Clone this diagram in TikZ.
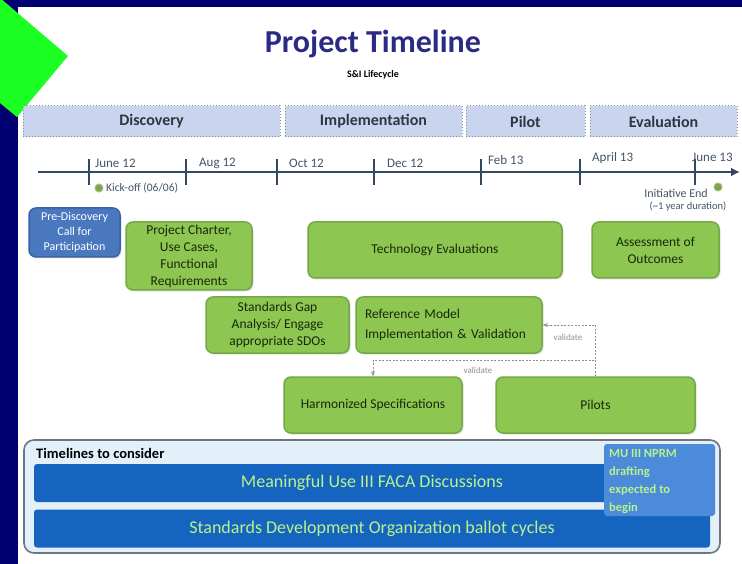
\documentclass[tikz,border=0pt]{standalone}
\usepackage{fontspec}
\setmainfont{Carlito}
\usetikzlibrary{arrows.meta,shadows}
\definecolor{navy}{HTML}{000070}
\definecolor{brightgreen}{HTML}{1CFF22}
\definecolor{titlecol}{HTML}{2B2B84}
\definecolor{phasefill}{HTML}{C9D5EE}
\definecolor{phaseborder}{HTML}{8A8F99}
\definecolor{phasetext}{HTML}{2E3640}
\definecolor{tlcol}{HTML}{34495E}
\definecolor{tltext}{HTML}{44546A}
\definecolor{gfill}{HTML}{8DC650}
\definecolor{gborder}{HTML}{74A844}
\definecolor{gtext}{HTML}{17290D}
\definecolor{bfill}{HTML}{4A78BE}
\definecolor{bborder}{HTML}{3A62A6}
\definecolor{markgreen}{HTML}{7DA446}
\definecolor{panelfill}{HTML}{E3EFF9}
\definecolor{panelborder}{HTML}{6C7680}
\definecolor{barfill}{HTML}{1565C0}
\definecolor{nprmfill}{HTML}{4B8BDA}
\definecolor{bartext}{HTML}{B8F28C}
\definecolor{valcol}{HTML}{8A9098}
\tikzset{
  phase/.style={draw=phaseborder, dotted, line width=1pt, fill=phasefill, minimum height=31pt,
    font=\bfseries\fontsize{16}{18}\selectfont, text=phasetext, inner sep=0pt},
  gbox/.style={draw=gborder, line width=1.5pt, fill=gfill, rounded corners=7pt, align=center,
    text=gtext, inner sep=2pt, font=\fontsize{13.5}{17}\selectfont,
    drop shadow={opacity=0.25, shadow xshift=1.5pt, shadow yshift=-1.5pt}},
  tlabel/.style={font=\fontsize{13}{15}\selectfont, text=tltext, inner sep=0pt},
  tick/.style={line width=1.8pt, draw=tlcol},
  val/.style={draw=valcol, line width=0.9pt, dash pattern=on 2pt off 1.5pt, -{Stealth[length=5pt,width=4pt]}},
  vallabel/.style={font=\fontsize{9}{10}\selectfont, text=valcol, inner sep=1pt},
  bar/.style={fill=barfill, rounded corners=3pt, minimum width=676pt, minimum height=38pt, inner sep=0pt,
    text=bartext, font=\fontsize{18}{20}\selectfont},
}
\begin{document}
\begin{tikzpicture}[x=1pt,y=-1pt]
\useasboundingbox (0,0) rectangle (742,564);
% background
\fill[navy] (0,0) rectangle (742,564);
\fill[white] (18,7) rectangle (742,564);
\fill[brightgreen] (0,-2) -- (68,56) -- (17,117) -- (0,103) -- cycle;

% title
\node[font=\bfseries\fontsize{32}{36}\selectfont, text=titlecol] (title) at (373,44) {Project Timeline};
\node[font=\bfseries\fontsize{10}{12}\selectfont] (subtitle) at (373,75) {S\&I Lifecycle};

% phases
\node[phase, minimum width=257pt] (discovery) at (151.5,121.5) {Discovery};
\node[phase, minimum width=177pt] (implementation) at (373.5,121.5) {Implementation};
\node[phase, minimum width=119pt] (pilot) at (525.5,121.5) {Pilot};
\node[phase, minimum width=147pt] (evaluation) at (663.5,121.5) {Evaluation};

% timeline
\coordinate (tstart) at (38,172);
\coordinate (tend) at (740,172);
\draw[line width=2.6pt, tlcol, -{Latex[length=9pt,width=9pt]}] (tstart) -- (tend);
\foreach \x in {89,186,277,374,481,580,695} {
  \draw[tick] (\x,159) -- (\x,185);
}
\node[tlabel, anchor=west] (jun12) at (95,163) {June 12};
\node[tlabel, anchor=west] (aug12) at (199,163) {Aug 12};
\node[tlabel, anchor=west] (oct12) at (289,163) {Oct 12};
\node[tlabel, anchor=west] (dec12) at (387,163) {Dec 12};
\node[tlabel, anchor=west] (feb13) at (488,160) {Feb 13};
\node[tlabel, anchor=west] (apr13) at (592,158) {April 13};
\node[tlabel, anchor=west] (jun13) at (692,157) {June 13};

% milestones
\node[circle, fill=markgreen, draw=markgreen!70!white, line width=1pt, minimum size=8pt, inner sep=0pt] (kickmark) at (99,188) {};
\node[tlabel, font=\fontsize{11.5}{13}\selectfont, anchor=west] (kick) at (106,188) {Kick-off (06/06)};
\node[circle, fill=markgreen, draw=markgreen!70!white, line width=1pt, minimum size=8pt, inner sep=0pt] (endmark) at (718,187) {};
\node[tlabel, font=\fontsize{12}{13}\selectfont, anchor=east] (endtext) at (708,193) {Initiative End};
\node[tlabel, font=\fontsize{10.5}{12}\selectfont] (duration) at (688,207) {(\textasciitilde1 year duration)};

% boxes
\node[gbox, fill=bfill, draw=bborder, text=white, minimum width=91pt, minimum height=49pt,
  font=\fontsize{12}{15}\selectfont] (prediscovery) at (74.5,232.5) {Pre-Discovery\\Call for\\Participation};
\node[gbox, minimum width=126pt, minimum height=68pt] (charter) at (189,256) {Project Charter,\\Use Cases,\\Functional\\Requirements};
\node[gbox, minimum width=254pt, minimum height=56pt] (tech) at (435,250) {Technology Evaluations};
\node[gbox, minimum width=127pt, minimum height=56pt] (assess) at (655.5,250) {Assessment of\\Outcomes};
\node[gbox, minimum width=143pt, minimum height=56pt] (gap) at (277.5,325) {Standards Gap\\Analysis/ Engage\\appropriate SDOs};
\node[gbox, minimum width=186pt, minimum height=56pt, align=left, text width=168pt,
  font=\fontsize{13.5}{20}\selectfont] (ref) at (449,325) {Reference Model\\Implementation \& Validation};
\node[gbox, minimum width=178pt, minimum height=56pt] (harm) at (373,405) {Harmonized Specifications};
\node[gbox, minimum width=199pt, minimum height=56pt] (pilots) at (595.5,405) {Pilots};

% validate connectors
\draw[val] (pilots.north) |- (ref.east);
\draw[val] (pilots.north) -- ++(0,-16) -| (harm.north);
\node[vallabel] (val1) at (568,337) {validate};
\node[vallabel] (val2) at (478,370) {validate};

% bottom panel
\node[draw=panelborder, line width=1.6pt, fill=panelfill, rounded corners=10pt,
  minimum width=696pt, minimum height=113pt, inner sep=0pt] (panel) at (372,496.5) {};
\node[font=\bfseries\fontsize{14.5}{16}\selectfont, anchor=west, inner sep=0pt] (consider) at (36,453) {Timelines to consider};
\node[bar] (mu) at (372,483) {Meaningful Use III FACA Discussions};
\node[bar] (sdo) at (372,528.5) {Standards Development Organization ballot cycles};
\node[fill=nprmfill, rounded corners=3pt, minimum width=111pt, minimum height=72pt, inner sep=0pt] (nprm) at (659.5,480) {};
\node[anchor=north west, align=left, text=bartext, inner sep=0pt,
  font=\bfseries\fontsize{12.5}{18}\selectfont] (nprmtext) at (609,449) {MU III NPRM\\drafting\\expected to\\begin};
\end{tikzpicture}
\end{document}
